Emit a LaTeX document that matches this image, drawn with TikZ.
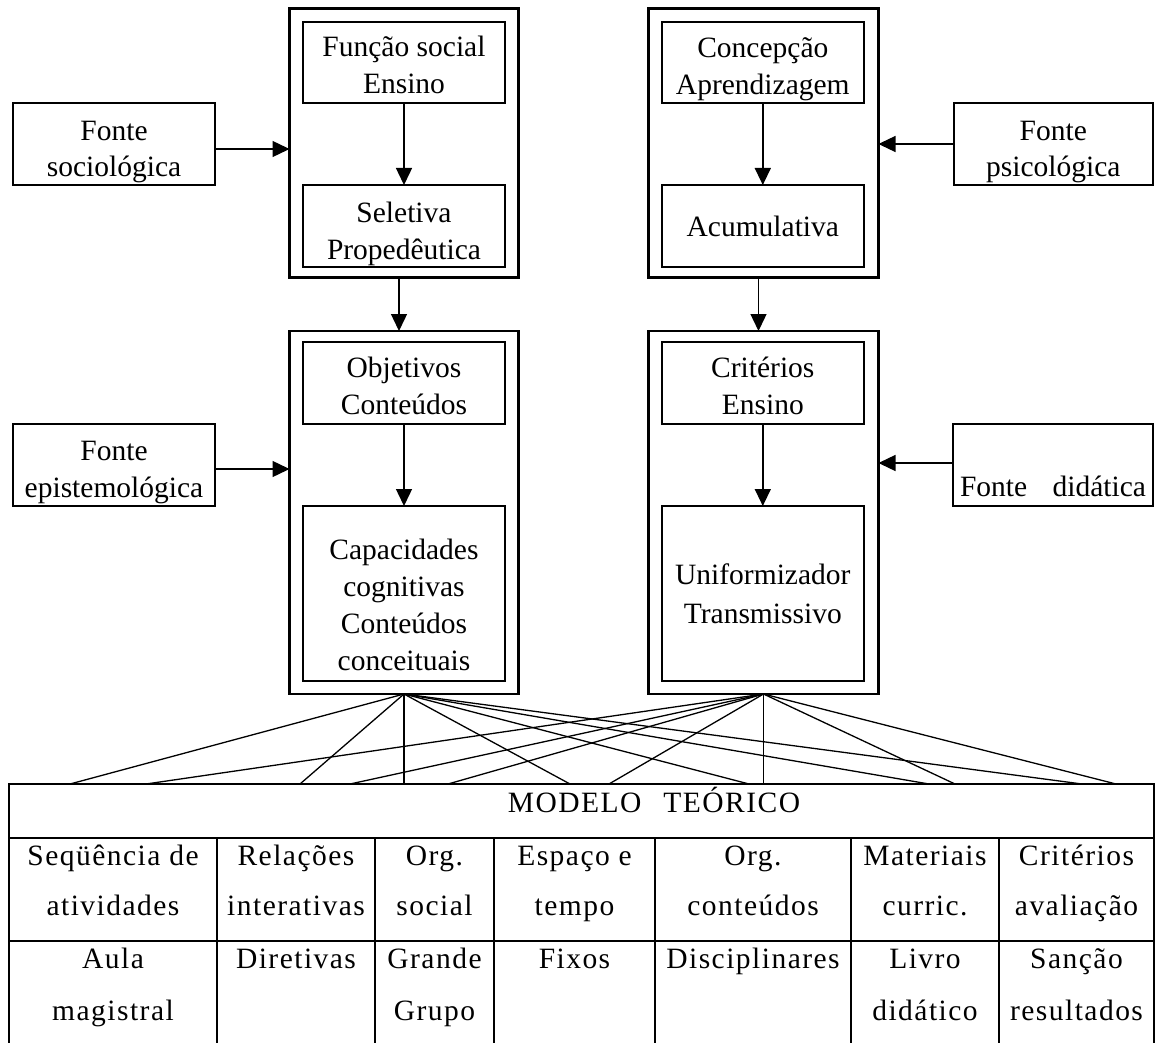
\documentclass[tikz,border=0pt]{standalone}
\usepackage{fontspec}
\setmainfont{Liberation Serif}
\newfontfamily\tabfamily[LetterSpace=5]{Liberation Serif}
\usetikzlibrary{arrows.meta}
\newcommand\dropto[1]{\rule{0pt}{#1}}
\begin{document}
\begin{tikzpicture}[x=1pt,y=-1pt,
  box/.style={draw, line width=1.9pt, inner sep=0pt, outer sep=0pt, align=center,
    anchor=north west, font=\fontsize{29.5}{37}\selectfont},
  tight/.style={font=\fontsize{29.5}{36}\selectfont},
  outerbox/.style={draw, line width=2.2pt, inner sep=0pt, outer sep=0pt, anchor=north west},
  arr/.style={line width=1.4pt, -{Triangle[length=17pt,width=16pt]}},
  link/.style={line width=1.3pt},
  grid/.style={line width=1.1pt},
  cell/.style={anchor=base, inner sep=0pt, font=\tabfamily\fontsize{29.5}{50}\selectfont}
]
\useasboundingbox (0,0) rectangle (1156,1043);

% outer boxes
\node[outerbox, minimum width=229pt, minimum height=269pt] (oTL) at (289.5,8.5) {};
\node[outerbox, minimum width=230pt, minimum height=269pt] (oTR) at (648.5,8.5) {};
\node[outerbox, minimum width=229pt, minimum height=363pt] (oBL) at (289.5,331) {};
\node[outerbox, minimum width=230pt, minimum height=363pt] (oBR) at (648.5,331) {};

% inner boxes
\node[box, minimum width=202pt, minimum height=81pt] (TL1) at (303,22) {\dropto{26pt}Função social\\Ensino};
\node[box, minimum width=202pt, minimum height=82pt] (TL2) at (303,185) {\dropto{35.4pt}Seletiva\\Propedêutica};
\node[box, minimum width=202.4pt, minimum height=81pt] (TR1) at (661.6,22) {\dropto{32.4pt}Concepção\\Aprendizagem};
\node[box, minimum width=202.4pt, minimum height=82pt] (TR2) at (661.6,185) {\dropto{22pt}Acumulativa};
\node[box, minimum width=202pt, minimum height=82pt] (BL1) at (303,342) {\dropto{27pt}Objetivos\\Conteúdos};
\node[box, minimum width=202pt, minimum height=175pt] (BL2) at (303,506) {\dropto{44pt}Capacidades\\cognitivas\\Conteúdos\\conceituais};
\node[box, minimum width=202.4pt, minimum height=82pt] (BR1) at (661.6,342) {\dropto{27pt}Critérios\\Ensino};
\node[box, font=\fontsize{29.5}{39}\selectfont, minimum width=202.4pt, minimum height=175pt] (BR2) at (661.6,506) {Uniformizador\\Transmissivo};

% source boxes
\node[box, tight, minimum width=202pt, minimum height=82pt] (fsoc) at (13,103) {\dropto{34.4pt}Fonte\\sociológica};
\node[box, tight, minimum width=199.4pt, minimum height=82pt] (fpsi) at (953.6,103) {\dropto{34.4pt}Fonte\\psicológica};
\node[box, minimum width=202pt, minimum height=82pt] (fepi) at (13,424) {\dropto{33.4pt}Fonte\\epistemológica};
\node[box, minimum width=200pt, minimum height=82pt] (fdid) at (953,424) {\dropto{64pt}\makebox[186pt][s]{Fonte didática}};

% arrows
\draw[arr] ([yshift=-5pt]fsoc.east) -- ([yshift=-5pt]fsoc.east -| oTL.west);
\draw[arr] (fpsi.west) -- (fpsi.west -| oTR.east);
\draw[arr] ([yshift=-4pt]fepi.east) -- ([yshift=-4pt]fepi.east -| oBL.west);
\draw[arr] ([yshift=2pt]fdid.west) -- ([yshift=2pt]fdid.west -| oBR.east);
\draw[arr] (TL1.south) -- (TL2.north);
\draw[arr] (TR1.south) -- (TR2.north);
\draw[arr] (BL1.south) -- (BL2.north);
\draw[arr] (BR1.south) -- (BR2.north);
\draw[arr] ([xshift=-5pt]oTL.south) -- ([xshift=-5pt]oBL.north);
\draw[arr] ([xshift=-5pt]oTR.south) -- ([xshift=-5pt]oBR.north);

% table anchor points on its top edge
\coordinate (pL1) at (70,784);
\coordinate (pL2) at (300,784);
\coordinate (pL4) at (570,784);
\coordinate (pL5) at (749,784);
\coordinate (pL6) at (929,784);
\coordinate (pL7) at (1082,784);
\coordinate (pR1) at (146,784);
\coordinate (pR2) at (350,784);
\coordinate (pR3) at (448,784);
\coordinate (pR4) at (609,784);
\coordinate (pR6) at (955,784);
\coordinate (pR7) at (1116,784);
\coordinate (tabtop) at (0,784);

% links
\foreach \p in {pL1,pL2,pL4,pL5,pL6,pL7} \draw[link] (oBL.south) -- (\p);
\draw[link] (oBL.south) -- (oBL.south |- tabtop);
\foreach \p in {pR1,pR2,pR3,pR4,pR6,pR7} \draw[link] (oBR.south) -- (\p);
\draw[link] (oBR.south) -- (oBR.south |- tabtop);

% table grid
\draw[grid] (9,1043) -- (9,784) -- (1154,784) -- (1154,1043);
\draw[grid] (9,838) -- (1154,838);
\draw[grid] (9,941) -- (1154,941);
\foreach \x in {217,375,494,655,851,999} \draw[grid] (\x,838) -- (\x,1043);

% table text
\node[cell] (hdr) at (654,812) {MODELO\hspace{22pt}TEÓRICO};
\node[cell] (a1) at (113,865) {\begin{tabular}[t]{@{}c@{}}Seqüência de\\atividades\end{tabular}};
\node[cell] (a2) at (296,865) {\begin{tabular}[t]{@{}c@{}}Relações\\interativas\end{tabular}};
\node[cell] (a3) at (434.5,865) {\begin{tabular}[t]{@{}c@{}}Org.\\social\end{tabular}};
\node[cell] (a4) at (574.5,865) {\begin{tabular}[t]{@{}c@{}}Espaço e\\tempo\end{tabular}};
\node[cell] (a5) at (753,865) {\begin{tabular}[t]{@{}c@{}}Org.\\conteúdos\end{tabular}};
\node[cell] (a6) at (925,865) {\begin{tabular}[t]{@{}c@{}}Materiais\\curric.\end{tabular}};
\node[cell] (a7) at (1076.5,865) {\begin{tabular}[t]{@{}c@{}}Critérios\\avaliação\end{tabular}};
\node[cell] (b1) at (113,968) {\begin{tabular}[t]{@{}c@{}}Aula\\[2pt]magistral\end{tabular}};
\node[cell] (b2) at (296,968) {Diretivas};
\node[cell] (b3) at (434.5,968) {\begin{tabular}[t]{@{}c@{}}Grande\\[2pt]Grupo\end{tabular}};
\node[cell] (b4) at (574.5,968) {Fixos};
\node[cell] (b5) at (753,968) {Disciplinares};
\node[cell] (b6) at (925,968) {\begin{tabular}[t]{@{}c@{}}Livro\\[2pt]didático\end{tabular}};
\node[cell] (b7) at (1076.5,968) {\begin{tabular}[t]{@{}c@{}}Sanção\\[2pt]resultados\end{tabular}};
\end{tikzpicture}
\end{document}
